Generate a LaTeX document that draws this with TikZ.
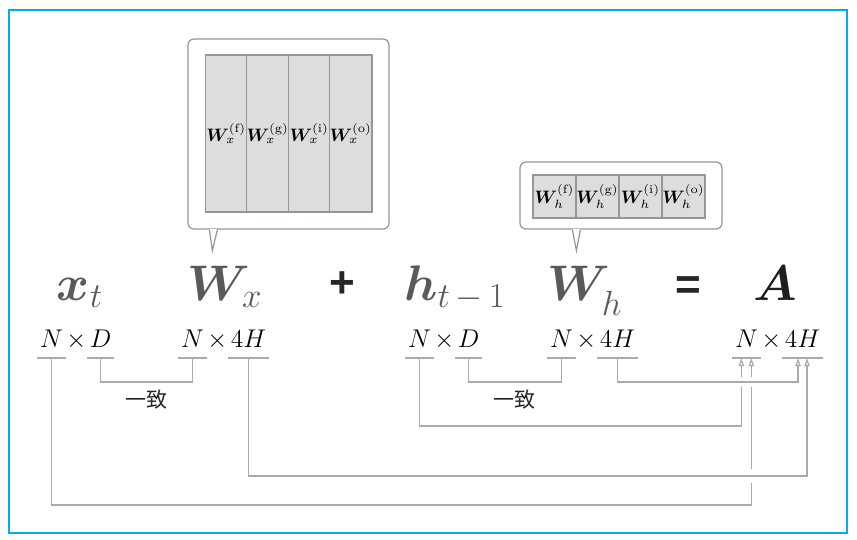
\RequirePackage{fix-cm}
\documentclass[tikz,border=0pt]{standalone}
\usepackage{amsmath,bm}
\usepackage{fontspec}
\newfontfamily\jpfont{Noto Sans CJK JP}
\newfontfamily\opfont{Liberation Sans}
\usetikzlibrary{arrows.meta,positioning}
\definecolor{framecyan}{RGB}{0,174,239}
\definecolor{linegray}{RGB}{170,170,170}
\definecolor{bubblegray}{RGB}{150,150,150}
\definecolor{cellgray}{RGB}{220,221,222}
\definecolor{celledge}{RGB}{150,150,150}
\definecolor{symgray}{RGB}{90,90,90}

\begin{document}
\begin{tikzpicture}[x=0.5pt, y=-0.5pt, >={Triangle[open,length=4pt,width=2.6pt]},
    conn/.style={draw=linegray, line width=0.6pt},
    hop/.style={draw=white, line width=#1},
    dimf/.style={inner xsep=1.5pt, inner ysep=5.5pt, text depth=0pt, outer sep=0pt, font=\fontsize{12.8}{14}\selectfont},
    tms/.style={inner xsep=0.3pt, inner ysep=0pt, outer sep=0pt, font=\fontsize{12.8}{14}\selectfont},
    big/.style={anchor=base, text=symgray, font=\fontsize{25}{28}\selectfont},
    op/.style={text=black!85, font=\opfont\bfseries\fontsize{22}{24}\selectfont},
    bubble/.style={draw=bubblegray, line width=0.6pt, rounded corners=3pt, fill=white, inner sep=0pt},
    tip/.style={draw=bubblegray, line width=0.6pt, fill=white},
    cell/.style={draw=celledge, line width=0.6pt, fill=cellgray, inner sep=0pt, outer sep=0pt, font=\fontsize{9}{11}\selectfont},
    note/.style={font=\jpfont\fontsize{10.5}{12}\selectfont, text=black!85, inner sep=0pt}]
    \useasboundingbox (0,0) rectangle (857,540);
    \draw[framecyan, line width=0.75pt] (9,10) rectangle (847,533);

    \node[bubble, minimum width=100.5pt, minimum height=95pt] (bubx) at (288.5,134) {};
    \draw[white, line width=1pt] ([xshift=11.3pt]bubx.south west) -- ([xshift=14.7pt]bubx.south west);
    \draw[tip] ([xshift=11pt]bubx.south west) -- ([xshift=12.5pt,yshift=-10.5pt]bubx.south west) -- ([xshift=15pt]bubx.south west);
    \foreach \g [count=\i from 0] in {f,g,i,o}
        \node[cell, minimum width=20.75pt, minimum height=78.5pt] (wx\g) at (226.25+41.5*\i,133.5) {$\bm{W}_{x}^{(\mathrm{\g})}$};

    \node[bubble, minimum width=101pt, minimum height=33.5pt] (bubh) at (621,195.5) {};
    \draw[white, line width=1pt] ([xshift=26.8pt]bubh.south west) -- ([xshift=30.2pt]bubh.south west);
    \draw[tip] ([xshift=26.5pt]bubh.south west) -- ([xshift=28.5pt,yshift=-10.5pt]bubh.south west) -- ([xshift=30.5pt]bubh.south west);
    \foreach \g [count=\i from 0] in {f,g,i,o}
        \node[cell, minimum width=21.5pt, minimum height=21.5pt] (wh\g) at (554.5+43*\i,196.5) {$\bm{W}_{h}^{(\mathrm{\g})}$};

    \node[big] (xt) at (80,300) {$\bm{x}_{t}$};
    \node[big] (wx) at (225,300) {$\bm{W}_{x}$};
    \node[op] (plus) at (342,285) {+};
    \node[big] (ht) at (455,300) {$\bm{h}_{t\mkern3mu-\mkern3mu1}$};
    \node[big] (wh) at (585,300) {$\bm{W}_{\lower4pt\hbox{$\scriptstyle h$}}$};
    \node[op] (eq) at (688,288) {=};
    \node[big, text=black!88] (a) at (775,300) {$\bm{A}$};

    \node[dimf, anchor=base west] (xN) at (37,347) {$N$};
    \node[tms, base right=0pt of xN] (xX) {$\times$};
    \node[dimf, base right=0pt of xX] (xD) {$D$};
    \node[dimf, anchor=base west] (wxN) at (178,347) {$N$};
    \node[tms, base right=0pt of wxN] (wxX) {$\times$};
    \node[dimf, base right=0pt of wxX] (wx4H) {$4H$};
    \node[dimf, anchor=base west] (hN) at (405,347) {$N$};
    \node[tms, base right=0pt of hN] (hX) {$\times$};
    \node[dimf, base right=0pt of hX] (hD) {$D$};
    \node[dimf, anchor=base west] (whN) at (547,347) {$N$};
    \node[tms, base right=0pt of whN] (whX) {$\times$};
    \node[dimf, base right=0pt of whX] (wh4H) {$4H$};
    \node[dimf, anchor=base west] (aN) at (732,347) {$N$};
    \node[tms, base right=0pt of aN] (aX) {$\times$};
    \node[dimf, base right=0pt of aX] (a4H) {$4H$};
    \foreach \n in {xN,xD,wxN,wx4H,hN,hD,whN,wh4H,aN,a4H}
        \draw[conn] (\n.south west) -- (\n.south east);

    \draw[conn] (xD.south) -- ++(0,24) -| node[note, pos=0.25, below=3.5pt] {一致} (wxN.south);
    \draw[conn] (hD.south) -- ++(0,24) -| node[note, pos=0.25, below=3.5pt] {一致} (whN.south);
    \draw[conn,->] (xN.south) -- ++(0,147) -| ([xshift=2.5pt]aN.south);
    \draw[conn,->] (hN.south) -- ++(0,68) -| ([xshift=-2.5pt]aN.south);
    \path (wx4H.south) ++(0,118) coordinate (wxbend);
    \draw[hop=7pt] (wxbend) -- (wxbend -| a4H.south);
    \draw[conn,->] (wx4H.south) -- (wxbend) -| ([xshift=2.25pt]a4H.south);
    \path (wh4H.south) ++(0,24) coordinate (whbend);
    \draw[hop=5pt] (whbend) -- ([xshift=-4pt]a4H.south |- whbend);
    \draw[conn,->] (wh4H.south) -- (whbend) -| ([xshift=-2.25pt]a4H.south);
\end{tikzpicture}
\end{document}
